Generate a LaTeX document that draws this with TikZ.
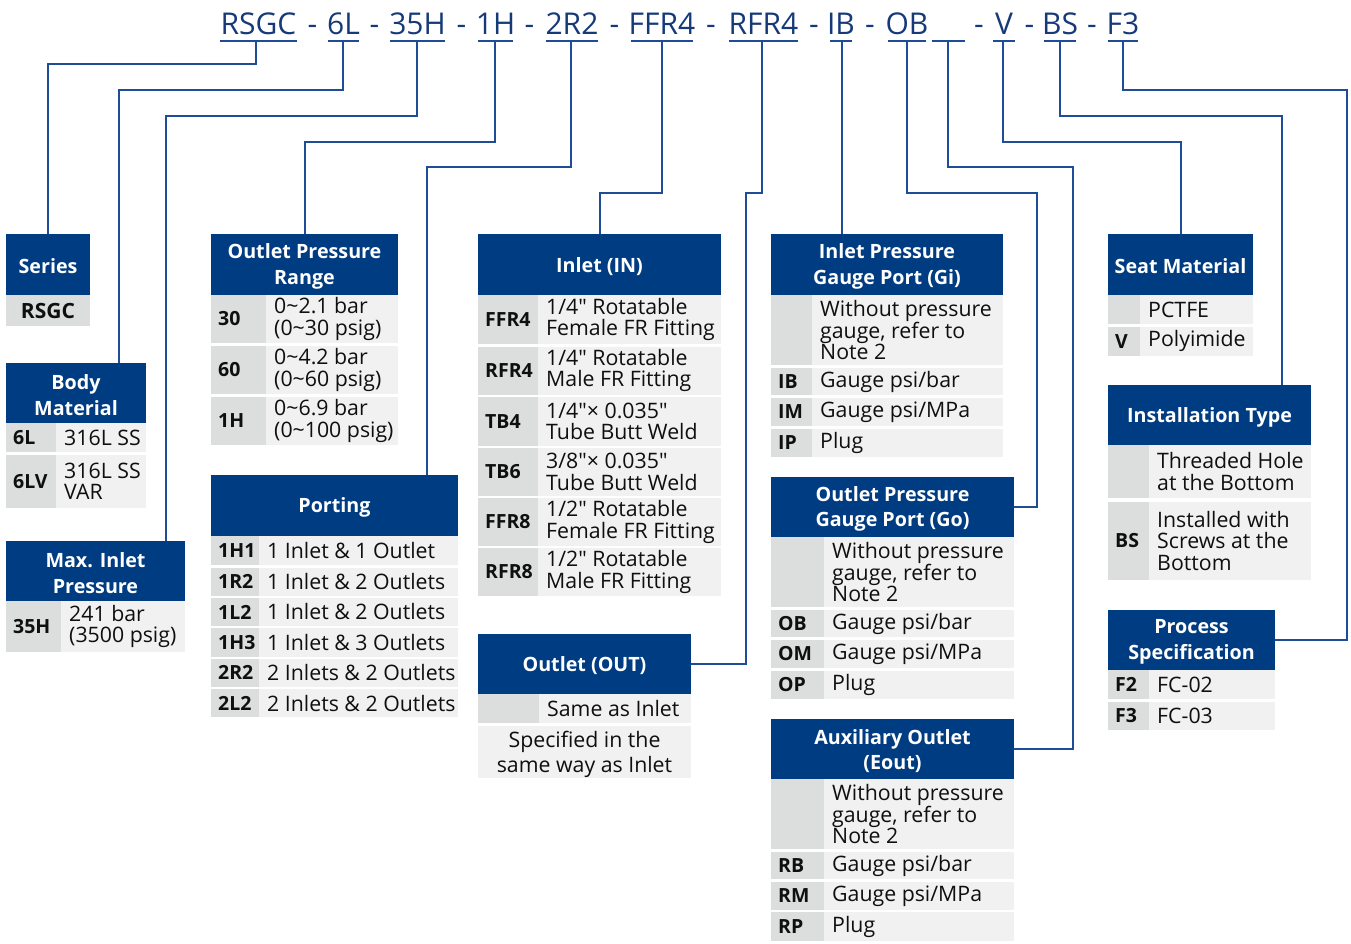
\documentclass[tikz,border=0pt]{standalone}
\usepackage{fontspec}
\setmainfont{Open Sans}
\usetikzlibrary{calc}
\definecolor{hdrblue}{RGB}{0,60,130}
\definecolor{lnblue}{RGB}{30,76,150}
\definecolor{codeblue}{RGB}{22,58,120}
\definecolor{lgray}{RGB}{220,221,221}
\definecolor{rgray}{RGB}{241,241,241}
\definecolor{ink}{RGB}{15,15,15}
\tikzset{
  conn/.style={draw=lnblue, line width=2pt},
  hdrbox/.style={fill=hdrblue, anchor=north west, inner sep=0pt, outer sep=0pt},
  hdrtxt/.style={text=white, inner sep=0pt, align=center, font=\fontsize{19.7}{25.5}\selectfont\bfseries},
  codetxt/.style={anchor=west, inner sep=0pt, text=ink, font=\fontsize{19.5}{21}\selectfont\bfseries},
  bodytxt/.style={anchor=west, inner sep=0pt, text=ink, align=left, font=\fontsize{21.3}{21.3}\selectfont},
  toptxt/.style={anchor=base, inner sep=0pt, text=codeblue, font=\fontsize{30}{36}\selectfont},
}
\newcommand\qd{\textquotedbl}
% name x1 y1 x2 y2 text
\newcommand\hdr[6]{\node[hdrbox, minimum width={#4-#2}, minimum height={#5-#3}] (#1) at (#2,#3) {};
  \node[hdrtxt] (#1t) at ([yshift=-2pt]#1.center) {#6};}
% name x1 xm x2 y1 y2 code text
\newcommand\trow[8]{%
  \fill[lgray] (#2,#5) rectangle (#3,#6);
  \fill[rgray] (#3,#5) rectangle (#4,#6);
  \node[codetxt] (#1c) at ({#2+7},{(#5+#6)/2}) {#7};
  \node[bodytxt] (#1t) at ({#3+8},{(#5+#6)/2}) {#8};}
\begin{document}
\begin{tikzpicture}[x=1pt,y=-1pt]
\useasboundingbox (0,0) rectangle (1351,943);
% ---- top code ----
\node[toptxt] (k1) at (258.5,34) {RSGC};
\node[toptxt] (k2) at (343.5,34) {6L};
\node[toptxt] (k3) at (417.5,34) {35H};
\node[toptxt] (k4) at (495.5,34) {1H};
\node[toptxt] (k5) at (572,34) {2R2};
\node[toptxt] (k6) at (662,34) {FFR4};
\node[toptxt] (k7) at (763.5,34) {RFR4};
\node[toptxt] (k8) at (841,34) {IB};
\node[toptxt] (k9) at (907,34) {OB};
\node[toptxt] (k11) at (1004,34) {V};
\node[toptxt] (k12) at (1060,34) {BS};
\node[toptxt] (k13) at (1123,34) {F3};
\foreach \x/\n in {312.5/1,374.5/2,461.5/3,529.5/4,614.5/5,711/6,814/7,870/8,979/9,1029.5/10,1092/11}
  \node[toptxt] (d\n) at (\x,34) {-};
\foreach \a/\b in {220/297,328/359,390/445,478/513,546/598,631/693,729/798,830/852,888/926,932/965,993/1015,1044/1076,1108/1138}
  \draw[conn] (\a,41) -- (\b,41);
\foreach \x/\n in {256/1,343/2,417/3,495/4,571/5,662/6,762/7,842/8,907/9,948/10,1003/11,1060/12,1123/13}
  \coordinate (u\n) at (\x,41);
% ---- headers ----
\hdr{hser}{6}{234}{90}{295}{Series}
\hdr{hbody}{6}{363}{146}{423}{Body\\Material}
\hdr{hmax}{6}{541}{185}{601}{Max. Inlet\\Pressure}
\hdr{hopr}{211}{234}{398}{295}{Outlet Pressure\\Range}
\hdr{hport}{211}{475}{458}{536}{Porting}
\hdr{hin}{478}{234}{721}{295}{Inlet (IN)}
\hdr{hout}{478}{634}{691}{694}{Outlet (OUT)}
\hdr{hig}{771}{234}{1003}{295}{Inlet Pressure\\Gauge Port (Gi)}
\hdr{hog}{771}{477}{1014}{537}{Outlet Pressure\\Gauge Port (Go)}
\hdr{haux}{771}{719}{1014}{779}{Auxiliary Outlet\\(Eout)}
\hdr{hseat}{1108}{234}{1253}{295}{Seat Material}
\hdr{hinst}{1108}{385}{1311}{445}{Installation Type}
\hdr{hproc}{1108}{610}{1275}{670}{Process\\Specification}
% ---- connectors ----
\draw[conn] (u1) -- ++(0,23) -| (hser.north);
\draw[conn] (u2) -- ++(0,49) -| ([xshift=113pt]hbody.north west);
\draw[conn] (u3) -- ++(0,75) -| ([xshift=160pt]hmax.north west);
\draw[conn] (u4) -- ++(0,101) -| (hopr.north);
\draw[conn] (u5) -- ++(0,126) -| ([xshift=216pt]hport.north west);
\draw[conn] (u6) -- ++(0,152) -| (hin.north);
\draw[conn] (u7) -- ++(0,152) -- ++(-16,0) |- (hout.east);
\draw[conn] (u8) -- (u8 |- hig.north);
\draw[conn] (u9) -- ++(0,152) -- ++(130,0) |- (hog.east);
\draw[conn] (u10) -- ++(0,126) -- ++(125,0) |- (haux.east);
\draw[conn] (u11) -- ++(0,101) -| (hseat.north);
\draw[conn] (u12) -- ++(0,75) -| ([xshift=174pt]hinst.north west);
\draw[conn] (u13) -- ++(0,49) -- ++(224,0) |- (hproc.east);
% ---- Series ----
\fill[lgray] (6,295) rectangle (90,326);
\node[codetxt, anchor=center, font=\fontsize{21}{22}\selectfont\bfseries] (sr1) at (48,310.5) {RSGC};
% ---- Body ----
\trow{bm1}{6}{56}{146}{423}{452}{6L}{316L SS}
\trow{bm2}{6}{56}{146}{455}{508}{6LV}{316L SS\\VAR}
% ---- Max inlet ----
\trow{mx1}{6}{61}{185}{601}{652}{35H}{241 bar\\(3500 psig)}
% ---- Outlet pressure range ----
\trow{op1}{211}{266}{398}{295}{343}{30}{0\char`~2.1 bar\\(0\char`~30 psig)}
\trow{op2}{211}{266}{398}{346}{394}{60}{0\char`~4.2 bar\\(0\char`~60 psig)}
\trow{op3}{211}{266}{398}{397}{445}{1H}{0\char`~6.9 bar\\(0\char`~100 psig)}
% ---- Porting ----
\trow{pt1}{211}{259}{458}{536}{565}{1H1}{1 Inlet \& 1 Outlet}
\trow{pt2}{211}{259}{458}{567.5}{596}{1R2}{1 Inlet \& 2 Outlets}
\trow{pt3}{211}{259}{458}{598}{626}{1L2}{1 Inlet \& 2 Outlets}
\trow{pt4}{211}{259}{458}{628}{656.5}{1H3}{1 Inlet \& 3 Outlets}
\trow{pt5}{211}{259}{458}{658.5}{687}{2R2}{2 Inlets \& 2 Outlets}
\trow{pt6}{211}{259}{458}{689}{717}{2L2}{2 Inlets \& 2 Outlets}
% ---- Inlet ----
\trow{in1}{478}{538}{721}{295}{344}{FFR4}{1/4\qd\ Rotatable\\Female FR Fitting}
\trow{in2}{478}{538}{721}{346.5}{395}{RFR4}{1/4\qd\ Rotatable\\Male FR Fitting}
\trow{in3}{478}{538}{721}{397}{445.5}{TB4}{1/4\qd\texttimes\ 0.035\qd\\Tube Butt Weld}
\trow{in4}{478}{538}{721}{447.5}{496}{TB6}{3/8\qd\texttimes\ 0.035\qd\\Tube Butt Weld}
\trow{in5}{478}{538}{721}{498}{546}{FFR8}{1/2\qd\ Rotatable\\Female FR Fitting}
\trow{in6}{478}{538}{721}{548}{596}{RFR8}{1/2\qd\ Rotatable\\Male FR Fitting}
% ---- Outlet ----
\trow{ou1}{478}{539}{691}{694}{723}{}{Same as Inlet}
\fill[rgray] (478,726) rectangle (691,778);
\node[bodytxt, anchor=center, align=center, font=\fontsize{21.3}{25}\selectfont] (ou2) at (584.5,754) {Specified in the\\same way as Inlet};
% ---- Inlet gauge ----
\trow{ig1}{771}{812}{1003}{295}{365}{}{Without pressure\\gauge, refer to\\Note 2}
\trow{ig2}{771}{812}{1003}{368}{395}{IB}{Gauge psi/bar}
\trow{ig3}{771}{812}{1003}{398}{425.5}{IM}{Gauge psi/MPa}
\trow{ig4}{771}{812}{1003}{428.5}{456.5}{IP}{Plug}
% ---- Outlet gauge ----
\trow{og1}{771}{824}{1014}{537}{607}{}{Without pressure\\gauge, refer to\\Note 2}
\trow{og2}{771}{824}{1014}{610}{637}{OB}{Gauge psi/bar}
\trow{og3}{771}{824}{1014}{640}{668}{OM}{Gauge psi/MPa}
\trow{og4}{771}{824}{1014}{670.5}{699}{OP}{Plug}
% ---- Auxiliary ----
\trow{ax1}{771}{824}{1014}{779}{849}{}{Without pressure\\gauge, refer to\\Note 2}
\trow{ax2}{771}{824}{1014}{852}{879}{RB}{Gauge psi/bar}
\trow{ax3}{771}{824}{1014}{882}{909.5}{RM}{Gauge psi/MPa}
\trow{ax4}{771}{824}{1014}{912}{941}{RP}{Plug}
% ---- Seat ----
\trow{st1}{1108}{1140}{1253}{295}{324}{}{PCTFE}
\trow{st2}{1108}{1140}{1253}{327}{355.5}{V}{Polyimide}
% ---- Installation ----
\trow{is1}{1108}{1149}{1311}{445}{498}{}{Threaded Hole\\at the Bottom}
\trow{is2}{1108}{1149}{1311}{501.5}{580}{BS}{Installed with\\Screws at the\\Bottom}
% ---- Process ----
\trow{pr1}{1108}{1149}{1275}{670}{699}{F2}{FC-02}
\trow{pr2}{1108}{1149}{1275}{701.5}{730}{F3}{FC-03}
\end{tikzpicture}
\end{document}
